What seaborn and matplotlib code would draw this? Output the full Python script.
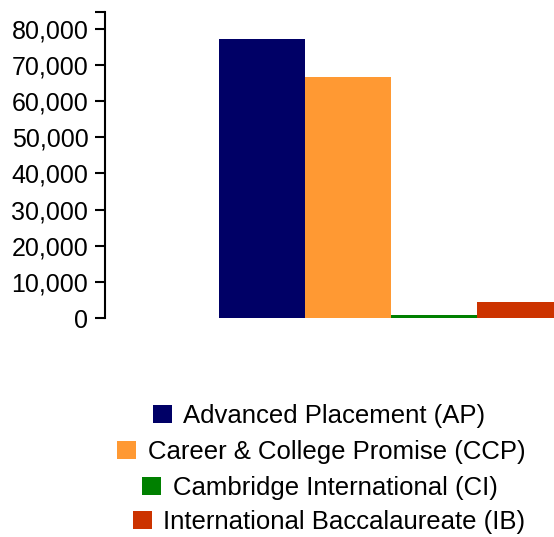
"""Bar chart of enrollment by advanced coursework program."""

import matplotlib.pyplot as plt
import pandas as pd
import seaborn as sns
from matplotlib.ticker import StrMethodFormatter

PROGRAMS = [
    "Advanced Placement (AP)",
    "Career & College Promise (CCP)",
    "Cambridge International (CI)",
    "International Baccalaureate (IB)",
]
VALUES = [77200, 66700, 750, 4450]
COLORS = ["#000066", "#FF9933", "#008000", "#CC3300"]
Y_TICKS = [0, 10000, 20000, 30000, 40000, 50000, 60000, 70000, 80000]
Y_TOP = 84700


def main() -> None:
    sns.set_theme(style="white")
    plt.rcParams["font.family"] = ["Liberation Sans", "DejaVu Sans"]
    plt.rcParams["text.color"] = "black"

    data = pd.DataFrame({"group": ["All"] * len(PROGRAMS), "program": PROGRAMS, "value": VALUES})

    fig = plt.figure(figsize=(5.54, 5.37), dpi=100)
    # axes run past the right edge, as in the original
    ax = fig.add_axes([105 / 554, 1 - 318 / 537, 572 / 554, 306 / 537])
    sns.barplot(
        data=data,
        x="group",
        y="value",
        hue="program",
        hue_order=PROGRAMS,
        palette=COLORS,
        saturation=1,
        width=0.8,
        dodge=True,
        linewidth=0,
        ax=ax,
        legend=True,
    )
    handles, labels = ax.get_legend_handles_labels()
    ax.get_legend().remove()

    ax.set_xlim(-0.665, 0.665)
    ax.set_ylim(0, Y_TOP)
    ax.set_yticks(Y_TICKS)
    ax.set_yticks([Y_TOP], minor=True)
    ax.yaxis.set_major_formatter(StrMethodFormatter("{x:,.0f}"))
    ax.tick_params(axis="y", which="both", length=7, width=1.5, color="black",
                   labelsize=18, pad=5, left=True, labelcolor="black")
    ax.set_xticks([])
    ax.set_xlabel("")
    ax.set_ylabel("")
    for side in ["top", "right", "bottom"]:
        ax.spines[side].set_visible(False)
    ax.spines["left"].set_color("black")
    ax.spines["left"].set_linewidth(1.5)

    # one centred row per entry
    rows = [(319, 416), (321, 452), (320, 488), (329, 522)]
    for handle, label, (x, y) in zip(handles, labels, rows):
        fig.legend(
            [handle], [label],
            loc="center",
            bbox_to_anchor=(x / 554, 1 - y / 537),
            frameon=False,
            fontsize=18.5,
            handlelength=0.75,
            handleheight=0.75,
            handletextpad=0.45,
            borderpad=0,
            labelcolor="black",
        )

    fig.savefig("out.png", dpi=100)
    plt.close(fig)


if __name__ == "__main__":
    main()
